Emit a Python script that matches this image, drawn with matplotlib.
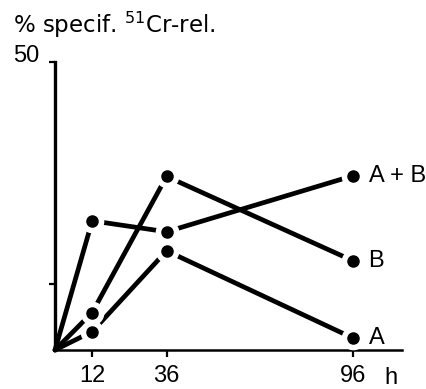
import matplotlib
matplotlib.use("Agg")
import matplotlib.pyplot as plt

# hours after start (% specific 51Cr release)
hours = [0, 12, 36, 96]
series_a = [0, 3.2, 17.2, 2.1]
series_b = [0, 6.5, 30.1, 15.5]
series_ab = [0, 22.4, 20.5, 30.2]
names = ["A", "B", "A + B"]

xticks = [12, 36, 96]
yticks = [11.5, 50]
ytick_labels = ["", "50"]

plt.rcParams["mathtext.default"] = "regular"
num_font = ["Liberation Sans Narrow", "Liberation Sans", "DejaVu Sans"]
lab_font = ["Liberation Sans", "DejaVu Sans"]

fig = plt.figure(figsize=(4.26, 3.89), dpi=100)
ax = fig.add_axes([55 / 426, 39 / 389, 347 / 426, 288.3 / 389])

all_series = [series_a, series_b, series_ab]
for vals in all_series:
    ax.plot(hours, vals, color="black", lw=3.4, solid_capstyle="round",
            clip_on=False, zorder=3)
# white halo around each point gives the gap between line and dot
for vals in all_series:
    ax.plot(hours[1:], vals[1:], "o", ms=16, mfc="white", mec="white",
            clip_on=False, zorder=4)
for vals in all_series:
    ax.plot(hours[1:], vals[1:], "o", ms=8, mfc="black", mec="black",
            clip_on=False, zorder=5)

for name, vals in zip(names, all_series):
    ax.annotate(name, xy=(hours[-1], vals[-1]), xytext=(11.5, 0),
                textcoords="offset points", va="center", ha="left",
                fontsize=17, family=lab_font)

ax.set_xlim(0, 347 / 3.1)
ax.set_ylim(0, 50)
ax.set_xticks(xticks)
ax.set_xticklabels([str(t) for t in xticks], fontsize=17, family=num_font)
ax.set_yticks(yticks)
ax.set_yticklabels(ytick_labels, fontsize=17, family=num_font)
for lbl in ax.get_yticklabels():
    lbl.set_va("baseline")

ax.tick_params(axis="x", direction="out", length=5, width=1.6, pad=6)
ax.tick_params(axis="y", direction="out", length=4.5, width=1.6, pad=7)

for s in ["top", "right"]:
    ax.spines[s].set_visible(False)
ax.spines["left"].set_linewidth(2.4)
ax.spines["bottom"].set_linewidth(1.8)
ax.spines["left"].set_zorder(2)

ax.annotate("h", xy=(108.4, 0), xytext=(0, -24.5), textcoords="offset points",
            ha="center", va="baseline", fontsize=17, family=lab_font)

fig.text(13 / 426, 1 - 33 / 389, "% specif. $^{51}$Cr-rel.", fontsize=16.5,
         family=["DejaVu Sans"], ha="left", va="baseline")

fig.savefig("out.png", dpi=100)
